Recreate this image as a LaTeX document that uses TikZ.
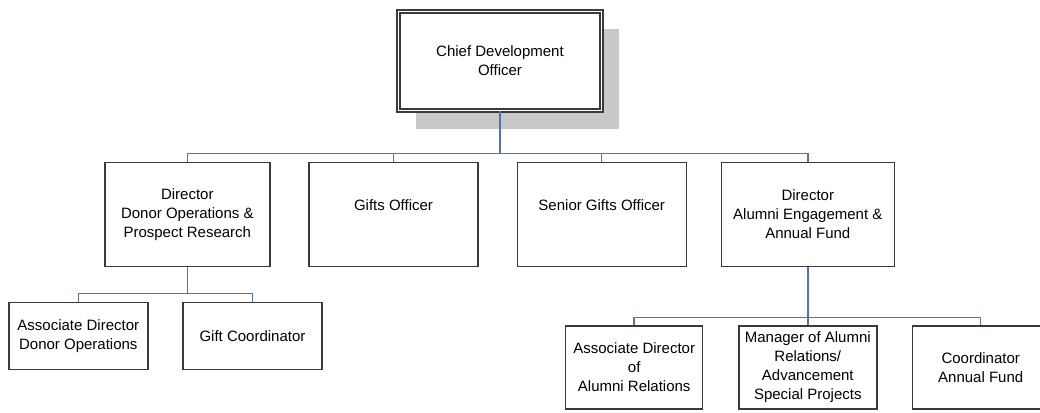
\documentclass[tikz,border=0pt]{standalone}
\usepackage{fontspec}
\setmainfont{Liberation Sans}
\usetikzlibrary{shadows}
\definecolor{boxline}{RGB}{58,58,58}
\definecolor{connline}{RGB}{84,116,168}
\definecolor{shadowgray}{RGB}{200,200,200}
\tikzset{
	post/.style={draw=boxline, line width=1.4pt, fill=white, inner sep=0pt, align=center,
		font=\fontsize{15}{19}\selectfont},
	chief/.style={post, double=white, line width=1.5pt, double distance=1.8pt,
		drop shadow={fill=shadowgray, opacity=1, shadow xshift=17pt, shadow yshift=-18pt}},
	conn/.style={draw=connline, line width=1.5pt}
}
\begin{document}
\begin{tikzpicture}[x=1pt,y=-1pt]
		\useasboundingbox (0,0) rectangle (1040,412);
		\clip (0,0) rectangle (1040,412);
		\node[chief, minimum width=203pt, minimum height=99pt] (cdo) at (500,61) {Chief Development\\Officer};
		\node[post, minimum width=165pt, minimum height=104pt] (dop) at (187.3,214.2) {Director\\Donor Operations \&\\Prospect Research};
		\node[post, minimum width=169pt, minimum height=104pt] (gifts) at (393.5,214.2) {Gifts Officer\\\mbox{}};
		\node[post, minimum width=169pt, minimum height=104pt] (senior) at (601.7,214.2) {Senior Gifts Officer\\\mbox{}};
		\node[post, minimum width=173pt, minimum height=104pt] (dae) at (807.8,214.2) {Director\\Alumni Engagement \&\\Annual Fund};
		\node[post, minimum width=139pt, minimum height=67pt] (add) at (78.3,336) {Associate Director\\Donor Operations};
		\node[post, minimum width=139pt, minimum height=67pt] (gc) at (252.5,336) {Gift Coordinator};
		\node[post, minimum width=137pt, minimum height=83pt] (adar) at (634.2,367.6) {Associate Director\\of\\Alumni Relations};
		\node[post, minimum width=138pt, minimum height=83pt] (mgr) at (807.8,367.6) {Manager of Alumni\\Relations/\\Advancement\\Special Projects};
		\node[post, minimum width=136pt, minimum height=83pt] (caf) at (980.7,367.6) {Coordinator\\Annual Fund};
		\coordinate (bus) at (500,153.3);
		\coordinate (busl) at (187.3,293.3);
		\coordinate (busr) at (807.8,317.7);
		\foreach \n in {dop,gifts,senior,dae}
			\draw[conn] (cdo.south) -- (cdo.south |- bus) -| (\n.north);
		\foreach \n in {add,gc}
			\draw[conn] (dop.south) -- (busl) -| (\n.north);
		\foreach \n in {adar,mgr,caf}
			\draw[conn] (dae.south) -- (busr) -| (\n.north);
	\end{tikzpicture}
\end{document}
